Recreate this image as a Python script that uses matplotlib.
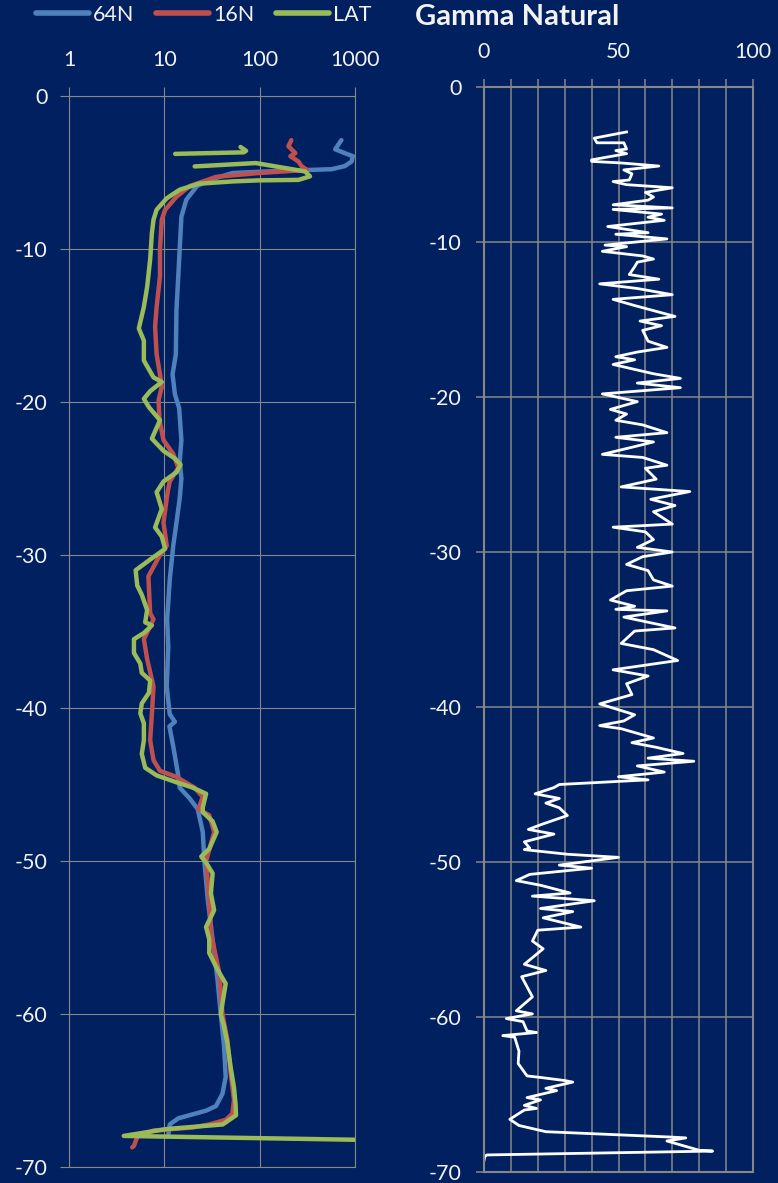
import numpy as np
import matplotlib
matplotlib.use("Agg")
import matplotlib.pyplot as plt
from matplotlib.ticker import NullLocator, FixedLocator, FixedFormatter

plt.rcParams["font.family"] = ["Lato", "DejaVu Sans"]
plt.rcParams["axes.unicode_minus"] = False

# ---------------- data ----------------
series_names = ["64N", "16N", "LAT"]

depth_64n = [-2.9, -3.5, -3.75, -3.95, -4.3, -4.6, -4.8, -4.85, -4.95, -5.05, -5.5, -5.9,
             -6.8, -7.9, -10.0, -11.8, -14.0, -16.9, -18.2, -19.5, -20.4, -22.5, -23.9,
             -25.0, -26.3, -27.9, -29.4, -31.6, -34.2, -36.0, -38.6, -40.4, -40.9, -41.2,
             -42.5, -44.3, -45.2, -45.9, -46.6, -48.1, -50.0, -52.5, -55.1, -57.8, -60.0,
             -62.1, -64.1, -65.2, -66.0, -66.3, -66.8, -67.2, -67.9]
res_64n = [720, 620, 780, 950, 920, 780, 570, 325, 115, 52, 30, 22,
           17, 15.1, 14.5, 14.0, 13.4, 13.2, 12.2, 12.9, 14.3, 15.1, 14.5,
           15.1, 14.5, 13.4, 12.4, 11.4, 10.7, 11.0, 10.6, 11.4, 12.9, 11.3,
           12.4, 13.9, 14.5, 18.4, 22.4, 25.3, 26.3, 28.5, 32.1, 36.2, 39.1,
           42.3, 44.0, 40.7, 34.8, 27.4, 14.0, 11.4, 11.0]

depth_16n = [-2.9, -3.3, -3.75, -3.95, -4.3, -4.6, -4.85, -5.05, -5.3, -5.9, -6.6, -7.45,
             -8.1, -10.0, -11.8, -13.8, -15.1, -16.9, -18.2, -19.0, -19.9, -21.2, -22.5,
             -23.4, -24.3, -25.2, -25.8, -26.3, -27.9, -29.4, -30.0, -31.4, -33.8, -34.2,
             -35.5, -36.8, -38.6, -40.4, -42.1, -43.4, -44.1, -44.5, -45.2, -45.8, -46.6,
             -47.0, -48.1, -50.0, -52.5, -54.7, -57.3, -60.0, -61.7, -63.9, -65.6, -66.5,
             -66.9, -67.2, -67.4, -67.6, -68.0, -68.6, -68.7]
res_16n = [215, 200, 237, 210, 255, 275, 313, 98, 35, 18.5, 13.4, 10.2,
           9.4, 9.0, 9.0, 8.3, 8.0, 8.3, 9.0, 9.4, 8.7, 8.9, 9.8,
           12.4, 14.0, 11.4, 10.9, 10.6, 9.8, 10.6, 9.0, 6.8, 7.1, 7.7,
           6.1, 6.6, 7.7, 7.4, 7.1, 7.7, 9.0, 13.4, 20.7, 25.3, 22.8,
           29.6, 33.3, 27.4, 29.6, 30.8, 37.7, 40.7, 45.9, 49.7, 53.8, 51.7,
           44.0, 29.6, 20, 7.7, 5.2, 4.8, 4.6]

depth_lat = [-3.35, -3.6, -3.7, -3.8, np.nan,
             -4.62, -4.4, -4.73, -4.95, -5.27, -5.5, -5.53, -5.6, -5.75, -6.14, -6.7, -7.45,
             -8.1, -9.0, -10.7, -12.5, -13.8, -15.2, -16.0, -17.3, -18.4, -18.7, -19.3,
             -19.8, -20.35, -21.2, -22.4, -23.2, -23.7, -24.1, -24.6, -25.2, -25.9, -27.0,
             -28.2, -28.8, -29.6, -30.3, -31.0, -32.0, -32.6, -33.6, -34.4, -34.6, -35.1,
             -35.5, -36.4, -37.1, -37.7, -38.2, -39.0, -39.7, -40.35, -41.0, -42.1, -43.0,
             -43.9, -44.4, -44.85, -45.2, -45.6, -46.5, -46.8, -47.4, -48.1, -49.2, -49.7,
             -50.1, -50.8, -52.1, -53.2, -54.3, -55.1, -56.0, -57.1, -58.0, -59.3, -60.0,
             -60.8, -61.9, -63.5, -64.8, -65.9, -66.6, -67.2, -67.5, -67.95, -68.2]
res_lat = [63, 72, 68, 13, np.nan,
           20.8, 91, 187, 300, 337, 255, 98, 52, 23, 14.5, 10.6, 8.3,
           7.7, 7.4, 7.1, 6.6, 6.1, 5.4, 6.1, 6.1, 7.7, 9.4, 7.1,
           6.1, 6.9, 9.0, 7.4, 9.8, 12.9, 14.8, 13.4, 9.8, 8.3, 9.4,
           8.0, 9.4, 10.2, 7.1, 5.0, 5.2, 5.8, 6.6, 6.3, 7.4, 6.1,
           4.8, 4.8, 5.6, 5.8, 7.1, 6.9, 5.8, 5.6, 6.1, 6.1, 5.8,
           6.3, 8.3, 13.4, 19.9, 27.4, 25.3, 25.3, 32.1, 35.4, 29.6, 24.4,
           27.4, 32.1, 30.8, 33.3, 27.4, 29.6, 29.6, 36.2, 44.0, 40.7, 39.1,
           42.3, 45.9, 49.7, 53.8, 55.9, 56.5, 41, 10.6, 3.75, 990]

depth_gamma = [-2.9, -3.3, -3.6, -3.6, -4.0, -4.1, -4.3, -4.7, -4.8, -4.9, -5.1, -5.35, -5.6,
               -6.0, -6.1, -6.3, -6.5, -6.8, -7.1, -7.3, -7.6, -7.8, -7.9, -8.2, -8.4, -8.6,
               -9.0, -9.4, -9.5, -9.8, -10.2, -10.3, -10.6, -10.9, -11.1, -11.3, -11.6, -12.1,
               -12.4, -12.7, -13.0, -13.4, -13.7, -14.1, -14.8, -15.1, -15.4, -15.7, -16.4,
               -16.8, -17.1, -17.4, -17.6, -17.9, -18.5, -18.8, -19.1, -19.4, -19.8, -20.3,
               -20.8, -21.1, -21.5, -21.8, -22.3, -22.6, -22.9, -23.2, -23.7, -23.9, -24.4,
               -24.6, -25.3, -25.8, -26.1, -26.6, -27.0, -27.4, -28.2, -28.4, -28.7, -29.2,
               -29.7, -30.0, -30.3, -30.8, -31.2, -31.8, -32.2, -32.5, -33.1, -33.5, -33.7,
               -33.8, -34.2, -34.9, -35.1, -35.9, -36.3, -37.0, -37.6, -38.0, -38.5, -39.2,
               -39.8, -40.5, -40.9, -41.2, -41.4, -42.0, -42.3, -42.6, -43.0, -43.3, -43.5,
               -43.8, -44.2, -44.5, -44.7, -45.0, -45.2, -45.6, -45.9, -46.2, -46.5, -47.0,
               -47.6, -47.9, -48.2, -48.7, -49.1, -49.2, -49.5, -49.7, -50.2, -50.4, -50.8,
               -51.2, -51.5, -52.0, -52.2, -52.5, -53.0, -53.2, -53.6, -54.2, -54.4, -55.1,
               -55.6, -56.6, -57.0, -57.4, -58.7, -59.6, -59.8, -60.1, -60.3, -60.9, -61.0,
               -61.2, -61.3, -62.2, -63.0, -63.8, -63.9, -64.1, -64.2, -64.6, -64.75, -65.2,
               -65.35, -65.7, -65.9, -66.0, -66.6, -67.0, -67.4, -67.75, -67.8, -68.0, -68.6,
               -68.65, -68.9, -69.0, -69.25]
gamma = [53, 41, 42, 52, 53, 49, 53, 40, 40, 51, 65, 52, 55,
         54, 48, 53, 70, 60, 63, 61, 48, 70, 48, 66, 61, 67,
         46, 61, 49, 68, 45, 53, 44, 59, 63, 57, 56, 54,
         65, 43, 57, 70, 48, 56, 71, 58, 66, 59, 61,
         68, 57, 49, 56, 48, 63, 73, 57, 73, 44, 57,
         47, 53, 49, 59, 68, 49, 63, 56, 44, 59, 68,
         60, 64, 51, 76.5, 62, 71, 63, 70, 48, 60, 63,
         57, 70, 59, 53, 61, 63, 70, 53, 47, 56, 49,
         68, 52, 71, 56, 51, 63, 72, 48, 61, 53, 55,
         43, 56, 52, 43, 51, 63, 55, 64, 74, 61, 78,
         57, 67, 50, 61, 28, 26, 19, 28, 23, 28, 31,
         21, 16.5, 26, 15, 17, 15, 31, 50, 28, 40, 17,
         12, 21, 32, 18, 41, 21, 33, 22, 36, 20, 18,
         22, 15, 23, 14, 18, 12, 18, 8.3, 14.5, 16, 19.5,
         7, 11.4, 13, 12.7, 16, 21, 30, 33, 23, 27, 16,
         21, 15, 19.5, 15, 9.6, 13, 23, 70, 75, 68, 80,
         85, 1, 0.3, 0]

log_ticks = [1, 10, 100, 1000]
log_tick_labels = ["1", "10", "100", "1000"]
gamma_ticks = [0, 10, 20, 30, 40, 50, 60, 70, 80, 90, 100]
gamma_tick_labels = ["0", "", "", "", "", "50", "", "", "", "", "100"]
depth_ticks = [0, -10, -20, -30, -40, -50, -60, -70]
depth_tick_labels = ["0", "-10", "-20", "-30", "-40", "-50", "-60", "-70"]

# ---------------- style ----------------
BG = "#002060"
GRID = "#878787"
TXT = "#f2f2f2"
COLORS = ["#4f81bd", "#c0504d", "#9bbb59"]
FS = 15.5

fig = plt.figure(figsize=(7.78, 11.83), dpi=100, facecolor=BG)
W, H = 778.0, 1183.0
axL = fig.add_axes([69 / W, 1 - 1167.3 / H, 286 / W, (1167.3 - 95.7) / H])
axR = fig.add_axes([484 / W, 1 - 1172 / H, 269 / W, 1085 / H])

for ax in (axL, axR):
    ax.set_facecolor(BG)
    for sp in ax.spines.values():
        sp.set_color(GRID)
    ax.xaxis.tick_top()
    ax.set_ylim(-70, 0)
    ax.set_yticks(depth_ticks)
    ax.set_yticklabels(depth_tick_labels)
    ax.set_axisbelow(True)

# ---- resistivity panel (log scale) ----
lines = []
for d, v, c, name in zip([depth_64n, depth_16n, depth_lat],
                         [res_64n, res_16n, res_lat], COLORS, series_names):
    ln, = axL.plot(v, d, color=c, lw=3.2, label=name,
                   solid_joinstyle="round", solid_capstyle="round")
    lines.append(ln)
axL.set_xscale("log")
axL.set_xlim(1, 1000)
axL.xaxis.set_major_locator(FixedLocator(log_ticks))
axL.xaxis.set_major_formatter(FixedFormatter(log_tick_labels))
axL.xaxis.set_minor_locator(NullLocator())
axL.grid(True, color=GRID, lw=0.8)
for sp in axL.spines.values():
    sp.set_linewidth(0.8)
axL.tick_params(axis="x", which="major", direction="out", length=6.5, width=0.8,
                color=GRID, labelcolor=TXT, labelsize=FS, pad=12)
axL.tick_params(axis="y", direction="out", length=6.5, width=0.8,
                color=GRID, labelcolor=TXT, labelsize=FS, pad=9)

# ---- gamma panel ----
axR.plot(gamma, depth_gamma, color="white", lw=2.0, solid_joinstyle="round")
axR.set_xlim(0, 100)
axR.set_xticks(gamma_ticks)
axR.set_xticklabels(gamma_tick_labels)
axR.grid(True, color=GRID, lw=1.1)
for sp in axR.spines.values():
    sp.set_linewidth(1.5)
axR.tick_params(axis="x", direction="out", length=6, width=1.1,
                color=GRID, labelcolor=TXT, labelsize=FS, pad=12)
axR.tick_params(axis="y", direction="out", length=6, width=1.1,
                color=GRID, labelcolor=TXT, labelsize=FS, pad=10)

# ---- legend and title ----
leg = fig.legend(handles=lines, loc="center left", bbox_to_anchor=(36 / W, 1 - 15 / H),
                 ncol=3, frameon=False, fontsize=FS, handlelength=2.45, handletextpad=0.2,
                 columnspacing=1.0, borderpad=0, borderaxespad=0)
for t in leg.get_texts():
    t.set_color(TXT)
for h in leg.legend_handles:
    h.set_linewidth(4)

fig.text(415 / W, 1 - 17 / H, "Gamma Natural", color=TXT, fontsize=21,
         fontweight="bold", ha="left", va="center")

fig.savefig("out.png", dpi=100, facecolor=BG)
